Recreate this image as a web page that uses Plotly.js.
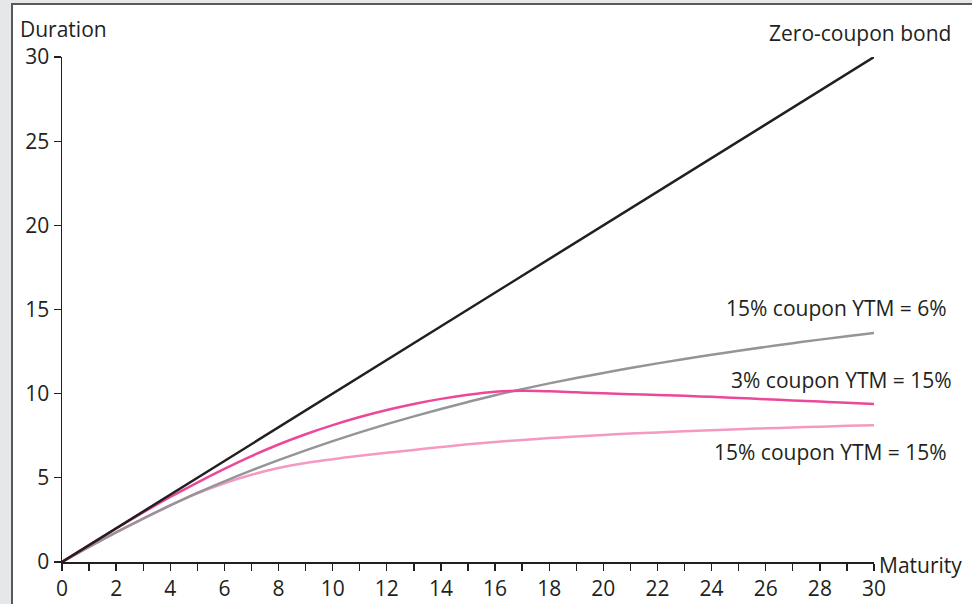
<!DOCTYPE html>
<html>
<head>
<meta charset="utf-8">
<script src="https://cdn.plot.ly/plotly-3.0.1.min.js"></script>
<style>
  html, body { margin: 0; padding: 0; background: #e6e7e8; width: 972px; height: 604px; overflow: hidden; }
  #frame { position: absolute; left: 11px; top: 3px; width: 961px; height: 601px; background: #ffffff;
           border-left: 2px solid #58595b; border-top: 2px solid #58595b; box-sizing: border-box; }
  #chart { position: absolute; left: 0; top: 0; width: 959px; height: 599px; }
</style>
</head>
<body>
<div id="frame"><div id="chart"></div></div>
<script>
// Maturity (years)
const maturity = [0,1,2,3,4,5,6,7,8,9,10,11,12,13,14,15,16,17,18,19,20,21,22,23,24,25,26,27,28,29,30];

// Zero-coupon bond: duration equals maturity
const zeroMaturity = [0, 30];
const zeroDuration = [0, 30];

// 15% coupon, YTM = 6%
const dur15c6y = [0,0.9,1.76,2.58,3.36,4.1,4.79,5.44,6.05,6.63,7.18,7.7,8.19,8.65,9.09,9.51,9.91,10.27,10.61,10.93,11.23,11.52,11.8,12.06,12.31,12.55,12.78,13.0,13.21,13.41,13.6];

// 3% coupon, YTM = 15%
const dur3c15y = [0,1.0,1.99,2.95,3.86,4.72,5.53,6.29,6.98,7.59,8.13,8.61,9.03,9.39,9.69,9.93,10.11,10.17,10.14,10.08,10.02,9.97,9.92,9.87,9.81,9.74,9.67,9.6,9.53,9.46,9.38];

// 15% coupon, YTM = 15%
const dur15c15y = [0,0.9,1.76,2.58,3.36,4.08,4.68,5.18,5.58,5.88,6.11,6.31,6.49,6.66,6.83,6.99,7.13,7.25,7.36,7.46,7.55,7.63,7.7,7.77,7.83,7.89,7.94,7.99,8.04,8.09,8.13];

const xTickVals = maturity;
const xTickText = maturity.map(v => (v % 2 === 0 ? String(v) : ''));
const yTickVals = [0, 5, 10, 15, 20, 25, 30];

const FONT = '"Open Sans", "Noto Sans", sans-serif';
const INK = '#231f20';
const FS = 21;

const traces = [
  { x: maturity, y: dur15c15y, mode: 'lines', line: { color: '#f49ac1', width: 2.5, shape: 'spline', smoothing: 1 }, name: '15% coupon YTM = 15%' },
  { x: maturity, y: dur15c6y, mode: 'lines', line: { color: '#939598', width: 2.5, shape: 'spline', smoothing: 1 }, name: '15% coupon YTM = 6%' },
  { x: maturity, y: dur3c15y, mode: 'lines', line: { color: '#ec4899', width: 2.5, shape: 'spline', smoothing: 1 }, name: '3% coupon YTM = 15%' },
  { x: zeroMaturity, y: zeroDuration, mode: 'lines', line: { color: INK, width: 2.5 }, name: 'Zero-coupon bond' }
];

const ann = (text, x, y, xanchor) => ({
  text: text, xref: 'paper', yref: 'paper', x: x, y: y, xanchor: xanchor, yanchor: 'middle',
  showarrow: false, font: { family: FONT, size: FS, color: INK }
});

const layout = {
  width: 959, height: 599,
  margin: { l: 49, r: 98, t: 52, b: 42 },
  paper_bgcolor: '#ffffff', plot_bgcolor: '#ffffff',
  showlegend: false,
  font: { family: FONT, size: FS, color: INK },
  xaxis: {
    range: [0, 30], showgrid: false, zeroline: false,
    showline: true, linecolor: INK, linewidth: 1.5,
    ticks: 'outside', ticklen: 7, tickwidth: 1.3, tickcolor: INK,
    tickmode: 'array', tickvals: xTickVals, ticktext: xTickText,
    tickfont: { family: FONT, size: FS, color: INK }
  },
  yaxis: {
    range: [0, 30], showgrid: false, zeroline: false,
    showline: true, linecolor: INK, linewidth: 1.5,
    ticks: 'outside', ticklen: 7, tickwidth: 1.3, tickcolor: INK,
    tickmode: 'array', tickvals: yTickVals,
    tickfont: { family: FONT, size: FS, color: INK }
  },
  annotations: [
    ann('Duration', -0.0542, 1.0554, 'left'),
    ann('Maturity', 1.0037, -0.006, 'left'),
    ann('Zero-coupon bond', 1.0973, 1.0475, 'right'),
    ann('15% coupon YTM = 6%', 1.0924, 0.503, 'right'),
    ann('3% coupon YTM = 15%', 1.0985, 0.3604, 'right'),
    ann('15% coupon YTM = 15%', 1.0924, 0.2178, 'right')
  ]
};

Plotly.newPlot('chart', traces, layout, { staticPlot: true, displayModeBar: false });
</script>
</body>
</html>
